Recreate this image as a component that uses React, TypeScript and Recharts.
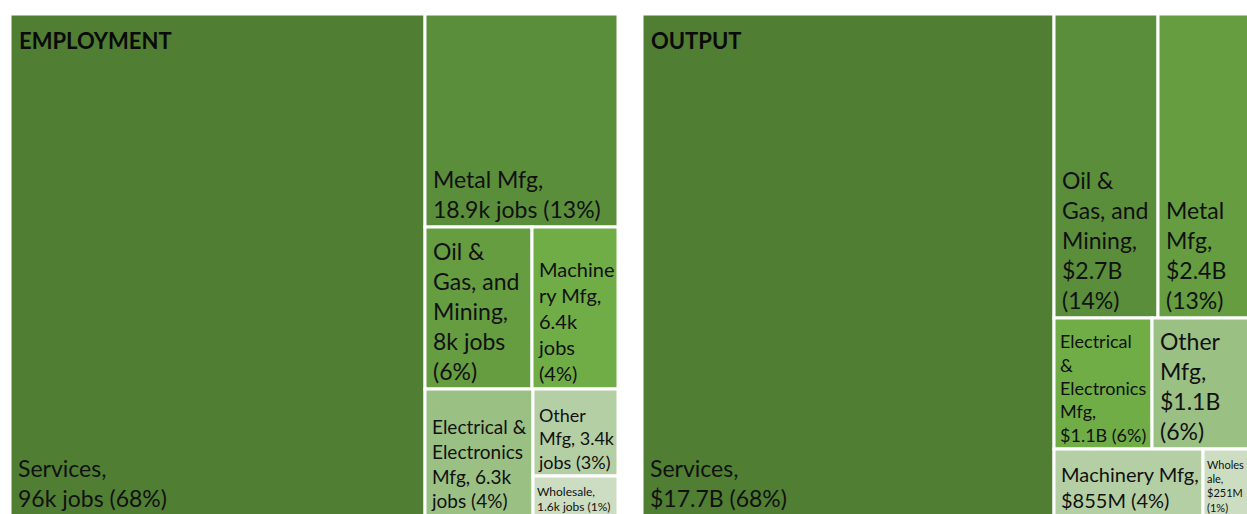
import { Treemap } from 'recharts'

// employment (thousand jobs)
const empNames = ['Services', 'Metal Mfg', 'Oil & Gas, and Mining', 'Machinery Mfg', 'Electrical & Electronics Mfg', 'Other Mfg', 'Wholesale']
const empValues = [96, 18.9, 8, 6.4, 6.3, 3.4, 1.6]
const empValueText = ['96k jobs', '18.9k jobs', '8k jobs', '6.4k jobs', '6.3k jobs', '3.4k jobs', '1.6k jobs']
const empShares = ['68%', '13%', '6%', '4%', '4%', '3%', '1%']

// output ($ billion)
const outNames = ['Services', 'Oil & Gas, and Mining', 'Metal Mfg', 'Electrical & Electronics Mfg', 'Other Mfg', 'Machinery Mfg', 'Wholesale']
const outValues = [17.7, 2.7, 2.4, 1.1, 1.1, 0.855, 0.251]
const outValueText = ['$17.7B', '$2.7B', '$2.4B', '$1.1B', '$1.1B', '$855M', '$251M']
const outShares = ['68%', '14%', '13%', '6%', '6%', '4%', '1%']

const shades = ['#507E32', '#5A8E3A', '#659D40', '#70AD47', '#9BC084', '#B5CFA5', '#CCDDC1']

const FONT = 'Lato, "Liberation Sans", sans-serif'
const W = 608
const H = 502

const buildData = (names: string[], values: number[], valueText: string[], shares: string[]) =>
  names.map((name, i) => ({
    name,
    size: values[i],
    head: name + ',',
    detail: `${valueText[i]} (${shares[i]})`,
  }))

const empData = buildData(empNames, empValues, empValueText, empShares)
const outData = buildData(outNames, outValues, outValueText, outShares)

let ctx: CanvasRenderingContext2D | null = null
function measure(text: string, size: number) {
  if (!ctx) ctx = document.createElement('canvas').getContext('2d')
  if (!ctx) return text.length * size * 0.5
  ctx.font = `${size}px ${FONT}`
  return ctx.measureText(text).width
}

function wrap(text: string, size: number, maxW: number) {
  const lines: string[] = []
  let cur = ''
  for (const word of text.split(' ')) {
    const test = cur ? cur + ' ' + word : word
    if (measure(test, size) <= maxW) { cur = test; continue }
    if (cur) lines.push(cur)
    cur = ''
    if (measure(word, size) <= maxW) { cur = word; continue }
    // break long words like Excel does
    for (const ch of word) {
      if (measure(cur + ch, size) <= maxW || !cur) cur += ch
      else { lines.push(cur); cur = ch }
    }
  }
  if (cur) lines.push(cur)
  return lines
}

function fitLabel(head: string, detail: string, w: number, h: number) {
  for (let f = 23; f >= 10; f--) {
    const padX = Math.max(4, Math.round(f * 0.35))
    const maxW = w - padX - 3
    const lineH = f * 1.3
    const tries = [
      [...wrap(head, f, maxW), ...wrap(detail, f, maxW)],
      wrap(head + ' ' + detail, f, maxW),
    ]
    for (const lines of tries) {
      const need = (lines.length - 1) * lineH + f * 1.15 + f * 0.4 + 4
      if (need <= h) return { f, lines, padX, lineH }
    }
  }
  const f = 10
  return { f, lines: wrap(head + ' ' + detail, f, w - 7), padX: 4, lineH: 13 }
}

function TileContent(props: any) {
  const { x, y, width, height, depth, index, head, detail } = props
  if (depth !== 1 || !width || !height) return <g />
  const { f, lines, padX, lineH } = fitLabel(head, detail, width, height)
  const lastBase = y + height - f * 0.4
  return (
    <g>
      <rect x={x} y={y} width={width} height={height} fill={shades[index % shades.length]} stroke="#fff" strokeWidth={3} />
      <text x={x + padX} fontSize={f} fontFamily={FONT} fill="#111" stroke="none">
        {lines.map((ln, i) => (
          <tspan key={i} x={x + padX} y={lastBase - (lines.length - 1 - i) * lineH}>{ln}</tspan>
        ))}
      </text>
    </g>
  )
}

function Panel({ title, data, left }: { title: string; data: any[]; left: number }) {
  return (
    <div style={{ position: 'absolute', left, top: 14, width: W, height: H }}>
      <Treemap
        width={W}
        height={H}
        data={data}
        dataKey="size"
        aspectRatio={1.7}
        stroke="#fff"
        isAnimationActive={false}
        content={(p: any) => <TileContent {...p} />}
      />
      <svg width={300} height={60} style={{ position: 'absolute', left: 0, top: 0, pointerEvents: 'none' }}>
        <text x={9} y={35} fontSize={22} fontWeight="bold" fontFamily={FONT} fill="#0a0a0a">{title}</text>
      </svg>
    </div>
  )
}

export default function App() {
  return (
    <div style={{ position: 'fixed', left: 0, top: 0, width: 1247, height: 514, overflow: 'hidden', background: '#fff' }}>
      <Panel title="EMPLOYMENT" data={empData} left={10} />
      <Panel title="OUTPUT" data={outData} left={642} />
    </div>
  )
}
